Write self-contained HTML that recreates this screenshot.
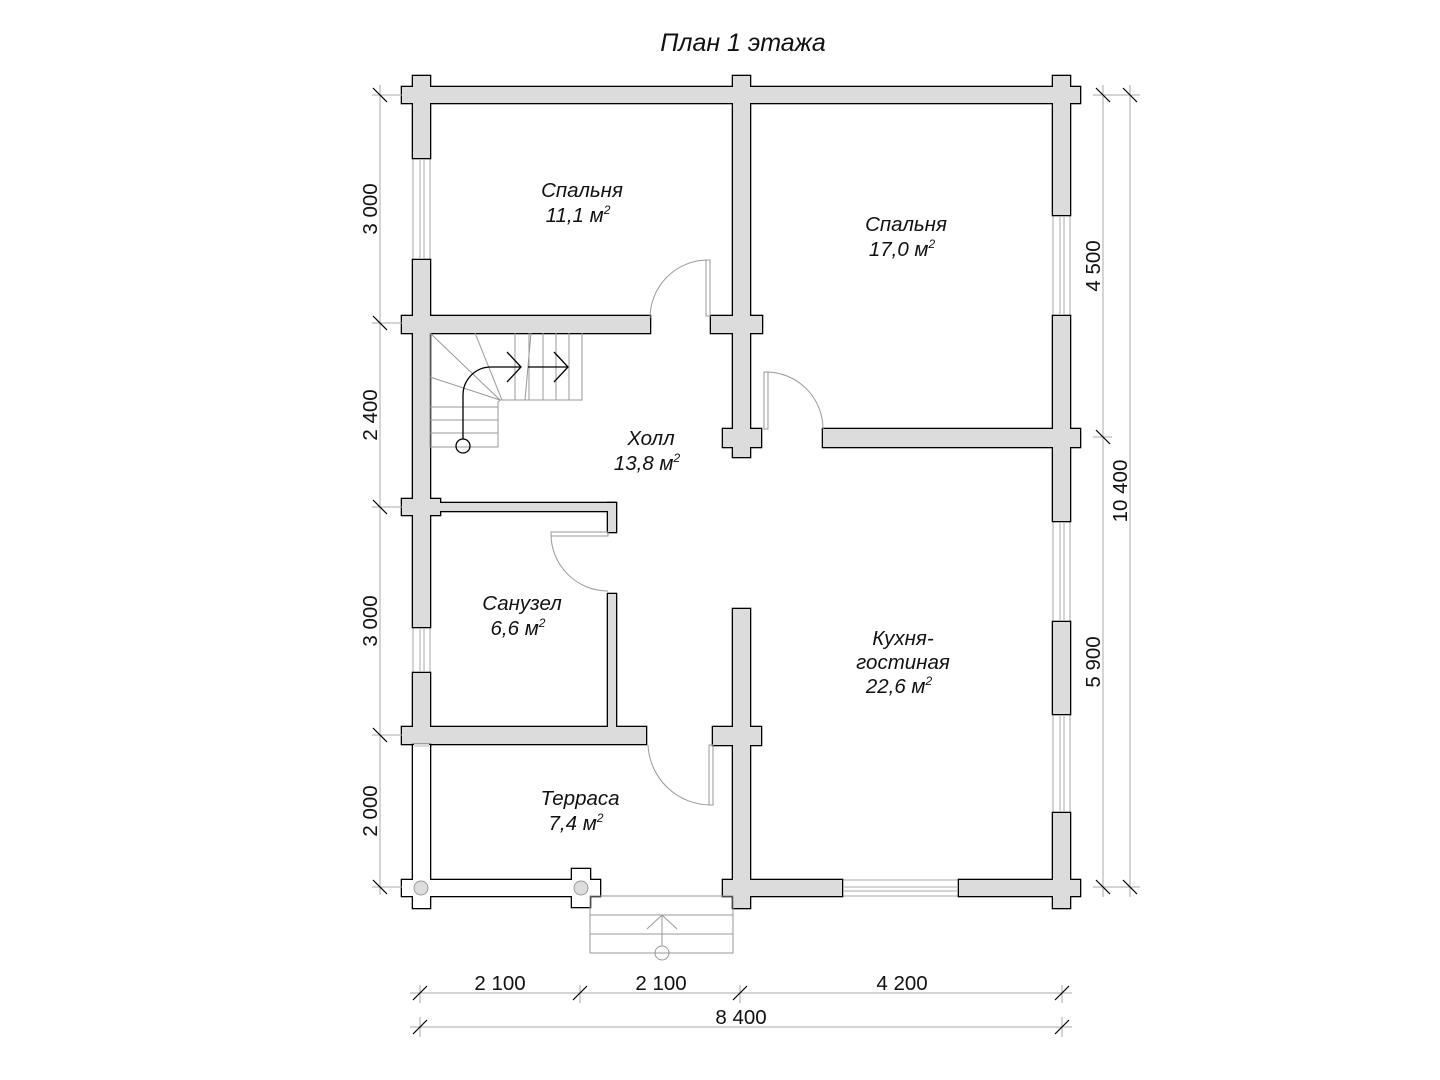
<!DOCTYPE html>
<html><head><meta charset="utf-8"><style>
html,body{margin:0;padding:0;background:#fff;}
svg{display:block;}
text{font-family:"Liberation Sans",sans-serif;fill:#111;}
.it{font-style:italic;}
</style></head><body>
<svg width="1440" height="1080" viewBox="0 0 1440 1080" xmlns="http://www.w3.org/2000/svg">
<text x="743" y="51" text-anchor="middle" class="it" font-size="25">План 1 этажа</text>

<!-- windows -->
<g fill="#fff" stroke="#aaa" stroke-width="1">
<rect x="413" y="158" width="17" height="102"/><line x1="420" y1="160" x2="420" y2="258"/><line x1="424" y1="160" x2="424" y2="258"/>
<rect x="413" y="627" width="17" height="46"/><line x1="420" y1="629" x2="420" y2="671"/><line x1="424" y1="629" x2="424" y2="671"/>
<rect x="1053" y="215" width="17" height="101"/><line x1="1060" y1="217" x2="1060" y2="314"/><line x1="1064" y1="217" x2="1064" y2="314"/>
<rect x="1053" y="521" width="17" height="101"/><line x1="1060" y1="523" x2="1060" y2="620"/><line x1="1064" y1="523" x2="1064" y2="620"/>
<rect x="1053" y="714" width="17" height="99"/><line x1="1060" y1="716" x2="1060" y2="811"/><line x1="1064" y1="716" x2="1064" y2="811"/>
<rect x="842" y="880" width="117" height="16"/><line x1="844" y1="887" x2="957" y2="887"/><line x1="844" y1="891" x2="957" y2="891"/>
</g>

<g fill="#000" stroke="#000" stroke-width="2.6">
<rect x="402" y="87" width="678" height="16"/>
<rect x="413" y="76" width="17" height="82"/>
<rect x="733" y="76" width="17" height="381"/>
<rect x="1053" y="76" width="17" height="139"/>
<rect x="413" y="260" width="17" height="367"/>
<rect x="402" y="316" width="248" height="17"/>
<rect x="711" y="316" width="51" height="17"/>
<rect x="723" y="429" width="38" height="18"/>
<rect x="823" y="429" width="257" height="18"/>
<rect x="1053" y="316" width="17" height="205"/>
<rect x="402" y="499" width="38" height="16"/>
<rect x="430" y="503" width="185" height="8"/>
<rect x="608" y="503" width="8" height="29"/>
<rect x="608" y="594" width="8" height="133"/>
<rect x="413" y="673" width="17" height="72"/>
<rect x="402" y="727" width="244" height="17"/>
<rect x="733" y="609" width="17" height="299"/>
<rect x="713" y="727" width="48" height="18"/>
<rect x="723" y="880" width="119" height="16"/>
<rect x="1053" y="622" width="17" height="92"/>
<rect x="1053" y="813" width="17" height="95"/>
<rect x="959" y="880" width="121" height="16"/>
</g>
<g fill="#dcdcdc">
<rect x="402" y="87" width="678" height="16"/>
<rect x="413" y="76" width="17" height="82"/>
<rect x="733" y="76" width="17" height="381"/>
<rect x="1053" y="76" width="17" height="139"/>
<rect x="413" y="260" width="17" height="367"/>
<rect x="402" y="316" width="248" height="17"/>
<rect x="711" y="316" width="51" height="17"/>
<rect x="723" y="429" width="38" height="18"/>
<rect x="823" y="429" width="257" height="18"/>
<rect x="1053" y="316" width="17" height="205"/>
<rect x="402" y="499" width="38" height="16"/>
<rect x="430" y="503" width="185" height="8"/>
<rect x="608" y="503" width="8" height="29"/>
<rect x="608" y="594" width="8" height="133"/>
<rect x="413" y="673" width="17" height="72"/>
<rect x="402" y="727" width="244" height="17"/>
<rect x="733" y="609" width="17" height="299"/>
<rect x="713" y="727" width="48" height="18"/>
<rect x="723" y="880" width="119" height="16"/>
<rect x="1053" y="622" width="17" height="92"/>
<rect x="1053" y="813" width="17" height="95"/>
<rect x="959" y="880" width="121" height="16"/>
</g>

<g fill="#000" stroke="#000" stroke-width="2.6">
<rect x="413" y="745" width="17" height="163"/>
<rect x="402" y="880" width="198" height="16"/>
<rect x="572" y="869" width="18" height="38"/>
</g>
<g fill="#fff">
<rect x="413" y="745" width="17" height="163"/>
<rect x="402" y="880" width="198" height="16"/>
<rect x="572" y="869" width="18" height="38"/>
</g>
<rect x="414" y="744" width="15" height="3" fill="#dcdcdc"/>
<g fill="#ddd" stroke="#999" stroke-width="1"><circle cx="421" cy="888" r="7"/><circle cx="581" cy="888" r="7"/></g>

<g fill="none" stroke="#999" stroke-width="1">
<rect x="590" y="896" width="143" height="57"/>
<line x1="590" y1="915" x2="733" y2="915"/><line x1="590" y1="934" x2="733" y2="934"/>
<line x1="662" y1="915" x2="662" y2="946"/>
<polyline points="647,929 662,915 677,929"/>
<circle cx="662" cy="953" r="7"/>
</g>

<g fill="none" stroke="#999" stroke-width="1">
<rect x="706" y="260" width="4" height="56"/><path d="M650,318 A58,58 0 0 1 708,260"/>
<rect x="764" y="372" width="4" height="57"/><path d="M766,372 A57,57 0 0 1 823,429"/>
<rect x="551" y="532" width="57" height="4"/><path d="M551,534 A57,57 0 0 0 608,591"/>
<rect x="709" y="745" width="4" height="60"/><path d="M648,745 A63,63 0 0 0 711,805"/>
</g>

<g fill="none" stroke="#999" stroke-width="1">
<polyline points="430,333 430,447 498,447 498,402 500,400 582,400 582,333"/>
<line x1="430" y1="407" x2="498" y2="407"/><line x1="430" y1="420" x2="498" y2="420"/><line x1="430" y1="433" x2="498" y2="433"/>
<line x1="430" y1="333" x2="500" y2="400"/><line x1="430" y1="377" x2="500" y2="400"/><line x1="475" y1="333" x2="502" y2="400"/>
<line x1="515" y1="333" x2="515" y2="400"/><line x1="531" y1="333" x2="525" y2="400"/>
<line x1="529" y1="333" x2="529" y2="400"/><line x1="543" y1="333" x2="543" y2="400"/><line x1="556" y1="333" x2="556" y2="400"/><line x1="569" y1="333" x2="569" y2="400"/>
</g>
<g fill="none" stroke="#000" stroke-width="1.3">
<circle cx="463" cy="446" r="7"/>
<path d="M463,439 L463,395 A28,28 0 0 1 491,367 L521,367"/>
<polyline points="507,352 521,367 507,382"/>
<line x1="528" y1="367" x2="568" y2="367"/>
<polyline points="554,352 568,367 554,382"/>
</g>

<g class="it" font-size="20.5" text-anchor="middle">
<text x="582" y="197">Спальня</text><text x="578" y="222">11,1 м<tspan font-size="12" dy="-8">2</tspan></text>
<text x="906" y="231">Спальня</text><text x="902" y="256">17,0 м<tspan font-size="12" dy="-8">2</tspan></text>
<text x="651" y="445">Холл</text><text x="647" y="470">13,8 м<tspan font-size="12" dy="-8">2</tspan></text>
<text x="522" y="610">Санузел</text><text x="518" y="635">6,6 м<tspan font-size="12" dy="-8">2</tspan></text>
<text x="903" y="645">Кухня-</text><text x="903" y="669">гостиная</text><text x="899" y="693">22,6 м<tspan font-size="12" dy="-8">2</tspan></text>
<text x="580" y="805">Терраса</text><text x="576" y="830">7,4 м<tspan font-size="12" dy="-8">2</tspan></text>
</g>

<g stroke="#aaa" stroke-width="1" fill="none">
<line x1="380" y1="85" x2="380" y2="895"/>
<line x1="372" y1="95" x2="402" y2="95"/><line x1="372" y1="323" x2="402" y2="323"/><line x1="372" y1="507" x2="402" y2="507"/><line x1="372" y1="735" x2="402" y2="735"/><line x1="372" y1="887" x2="402" y2="887"/>
<line x1="1103" y1="85" x2="1103" y2="897"/><line x1="1130" y1="85" x2="1130" y2="897"/>
<line x1="1093" y1="95" x2="1140" y2="95"/><line x1="1093" y1="437" x2="1112" y2="437"/><line x1="1093" y1="887" x2="1140" y2="887"/>
<line x1="410" y1="993" x2="1072" y2="993"/><line x1="410" y1="1027" x2="1072" y2="1027"/>
<line x1="420" y1="985" x2="420" y2="1003"/><line x1="580" y1="985" x2="580" y2="1003"/><line x1="740" y1="985" x2="740" y2="1003"/><line x1="1062" y1="985" x2="1062" y2="1003"/>
<line x1="420" y1="1017" x2="420" y2="1037"/><line x1="1062" y1="1017" x2="1062" y2="1037"/>
</g>
<g stroke="#000" stroke-width="1.2">
<line x1="373" y1="88" x2="387" y2="102"/><line x1="373" y1="316" x2="387" y2="330"/><line x1="373" y1="500" x2="387" y2="514"/><line x1="373" y1="728" x2="387" y2="742"/><line x1="373" y1="880" x2="387" y2="894"/>
<line x1="1096" y1="88" x2="1110" y2="102"/><line x1="1123" y1="88" x2="1137" y2="102"/><line x1="1096" y1="430" x2="1110" y2="444"/><line x1="1096" y1="880" x2="1110" y2="894"/><line x1="1123" y1="880" x2="1137" y2="894"/>
<line x1="413" y1="1000" x2="427" y2="986"/><line x1="573" y1="1000" x2="587" y2="986"/><line x1="733" y1="1000" x2="747" y2="986"/><line x1="1055" y1="1000" x2="1069" y2="986"/>
<line x1="413" y1="1034" x2="427" y2="1020"/><line x1="1055" y1="1034" x2="1069" y2="1020"/>
</g>
<g font-size="20.5" text-anchor="middle">
<text transform="translate(377,209) rotate(-90)">3 000</text>
<text transform="translate(377,415) rotate(-90)">2 400</text>
<text transform="translate(377,621) rotate(-90)">3 000</text>
<text transform="translate(377,811) rotate(-90)">2 000</text>
<text transform="translate(1100,266) rotate(-90)">4 500</text>
<text transform="translate(1100,662) rotate(-90)">5 900</text>
<text transform="translate(1127,491) rotate(-90)">10 400</text>
<text x="500" y="990">2 100</text>
<text x="661" y="990">2 100</text>
<text x="902" y="990">4 200</text>
<text x="741" y="1024">8 400</text>
</g>
</svg>
</body></html>
